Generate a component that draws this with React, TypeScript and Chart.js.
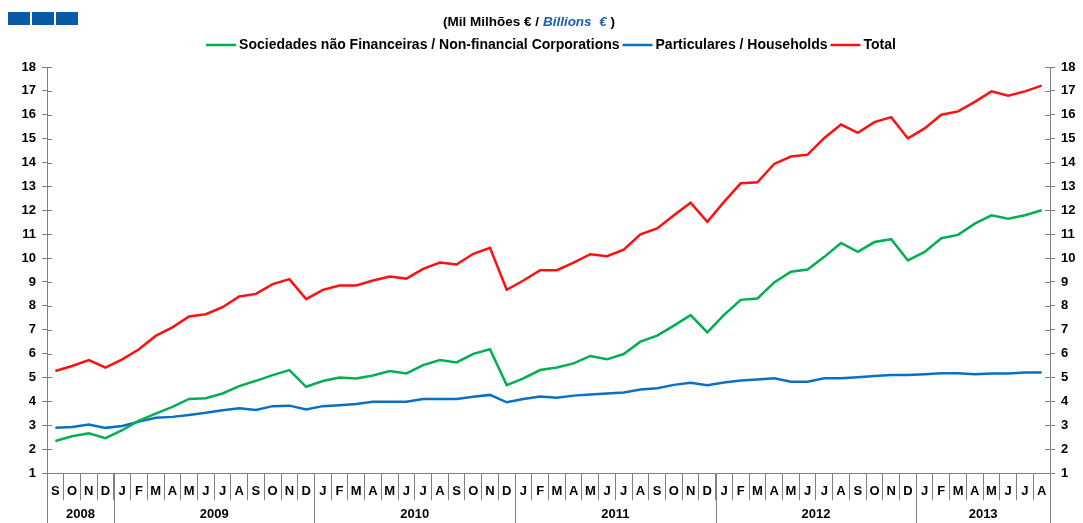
import React, { useEffect, useRef } from 'react';
import { Chart, registerables } from 'chart.js';

Chart.register(...registerables);

const monthLabels = [
  'S', 'O', 'N', 'D',
  'J', 'F', 'M', 'A', 'M', 'J', 'J', 'A', 'S', 'O', 'N', 'D',
  'J', 'F', 'M', 'A', 'M', 'J', 'J', 'A', 'S', 'O', 'N', 'D',
  'J', 'F', 'M', 'A', 'M', 'J', 'J', 'A', 'S', 'O', 'N', 'D',
  'J', 'F', 'M', 'A', 'M', 'J', 'J', 'A', 'S', 'O', 'N', 'D',
  'J', 'F', 'M', 'A', 'M', 'J', 'J', 'A',
];

const yearLabels = ['2008', '2009', '2010', '2011', '2012', '2013'];
const yearMonthCounts = [4, 12, 12, 12, 12, 8];

const corporations = [
  2.34, 2.54, 2.66, 2.46,
  2.79, 3.19, 3.49, 3.77, 4.10, 4.13, 4.33, 4.64, 4.86, 5.10, 5.31, 4.61,
  4.85, 5.00, 4.96, 5.08, 5.27, 5.17, 5.52, 5.73, 5.63, 5.99, 6.18, 4.68,
  4.96, 5.31, 5.42, 5.59, 5.90, 5.76, 5.98, 6.50, 6.75, 7.17, 7.61, 6.89,
  7.62, 8.25, 8.31, 8.98, 9.43, 9.52, 10.05, 10.63, 10.26, 10.67, 10.79, 9.90,
  10.26, 10.83, 10.97, 11.44, 11.79, 11.65, 11.79, 12.00,
];

const households = [
  2.89, 2.93, 3.03, 2.89,
  2.97, 3.15, 3.31, 3.35, 3.43, 3.52, 3.63, 3.71, 3.64, 3.80, 3.82, 3.66,
  3.80, 3.84, 3.89, 3.98, 3.98, 3.98, 4.10, 4.10, 4.10, 4.19, 4.27, 3.96,
  4.10, 4.20, 4.15, 4.24, 4.29, 4.33, 4.37, 4.50, 4.55, 4.69, 4.78, 4.68,
  4.79, 4.87, 4.92, 4.97, 4.82, 4.82, 4.97, 4.97, 5.01, 5.06, 5.10, 5.10,
  5.14, 5.18, 5.18, 5.13, 5.17, 5.17, 5.21, 5.21,
];

const total = [
  5.27, 5.48, 5.73, 5.41,
  5.76, 6.18, 6.74, 7.10, 7.55, 7.65, 7.94, 8.39, 8.50, 8.91, 9.12, 8.28,
  8.67, 8.85, 8.85, 9.06, 9.23, 9.14, 9.55, 9.81, 9.73, 10.18, 10.43, 8.67,
  9.06, 9.49, 9.49, 9.81, 10.16, 10.08, 10.35, 10.99, 11.24, 11.79, 12.32, 11.52,
  12.35, 13.13, 13.17, 13.94, 14.25, 14.33, 15.03, 15.59, 15.24, 15.69, 15.90, 15.01,
  15.43, 16.00, 16.14, 16.54, 16.98, 16.80, 16.98, 17.22,
];

const seriesNames = [
  'Sociedades não Financeiras / Non-financial Corporations',
  'Particulares / Households',
  'Total',
];
const seriesColors = ['#00b050', '#0a70c4', '#ff1010'];
const subtitleParts = ['(Mil Milhões € / ', 'Billions  €', ' )'];

const FONT = "'Liberation Sans', Arial, sans-serif";
const AXIS_GRAY = '#808080';

const decorPlugin = {
  id: 'decor',
  afterDraw(chart: any) {
    const ctx = chart.ctx as CanvasRenderingContext2D;
    const xs = chart.scales.x;
    const ys = chart.scales.y;
    const { bottom, left, right } = chart.chartArea;
    ctx.save();

    // header squares
    ctx.fillStyle = '#0b5aa5';
    [8, 32, 56].forEach((sx) => ctx.fillRect(sx, 12, 22, 13));

    // subtitle
    const fonts = [`bold 13.5px ${FONT}`, `italic bold 13.5px ${FONT}`, `bold 13.5px ${FONT}`];
    const colors = ['#000000', '#1f5fa6', '#000000'];
    const widths = subtitleParts.map((t, i) => {
      ctx.font = fonts[i];
      return ctx.measureText(t).width;
    });
    const totalW = widths.reduce((a, b) => a + b, 0);
    let cx = 529 - totalW / 2;
    ctx.textBaseline = 'middle';
    ctx.textAlign = 'left';
    subtitleParts.forEach((t, i) => {
      ctx.font = fonts[i];
      ctx.fillStyle = colors[i];
      ctx.fillText(t, cx, 22);
      cx += widths[i];
    });

    // legend
    ctx.font = `bold 14px ${FONT}`;
    const lineLen = 30;
    const gap = 3;
    const items = chart.data.datasets.map((d: any) => ({
      text: d.label as string,
      color: d.borderColor as string,
      w: lineLen + gap + ctx.measureText(d.label).width,
    }));
    const legendW = items.reduce((a: number, it: any) => a + it.w, 0) + gap * (items.length - 1);
    let lx = 551 - legendW / 2;
    const ly = 45;
    items.forEach((it: any) => {
      ctx.strokeStyle = it.color;
      ctx.lineWidth = 2.5;
      ctx.beginPath();
      ctx.moveTo(lx, ly);
      ctx.lineTo(lx + lineLen, ly);
      ctx.stroke();
      ctx.fillStyle = '#000';
      ctx.fillText(it.text, lx + lineLen + gap, ly);
      lx += it.w + gap;
    });

    // year row
    const half = (xs.getPixelForValue(1) - xs.getPixelForValue(0)) / 2;
    ctx.strokeStyle = AXIS_GRAY;
    ctx.lineWidth = 1;
    ctx.font = `bold 13px ${FONT}`;
    ctx.fillStyle = '#000';
    ctx.textAlign = 'center';
    let idx = 0;
    const drawV = (px: number) => {
      const p = Math.round(px) + 0.5;
      ctx.beginPath();
      ctx.moveTo(p, bottom);
      ctx.lineTo(p, chart.height);
      ctx.stroke();
    };
    yearLabels.forEach((yl, i) => {
      const n = yearMonthCounts[i];
      const x0 = xs.getPixelForValue(idx) - half;
      const x1 = xs.getPixelForValue(idx + n - 1) + half;
      drawV(x0);
      if (i === yearLabels.length - 1) drawV(x1);
      ctx.fillText(yl, (x0 + x1) / 2, 514);
      idx += n;
    });

    // inner tick marks on both y axes
    ys.ticks.forEach((t: any) => {
      const py = Math.round(ys.getPixelForValue(t.value)) + 0.5;
      ctx.beginPath();
      ctx.moveTo(left, py);
      ctx.lineTo(left + 5, py);
      ctx.moveTo(right - 5, py);
      ctx.lineTo(right, py);
      ctx.stroke();
    });
    ctx.restore();
  },
};

export default function App() {
  const ref = useRef<HTMLCanvasElement | null>(null);
  useEffect(() => {
    if (!ref.current) return;
    const yScale = (position: 'left' | 'right', w: number) => ({
      type: 'linear' as const,
      position,
      min: 1,
      max: 18,
      afterFit: (s: any) => {
        s.width = w;
      },
      border: { display: true, color: AXIS_GRAY, width: 1 },
      grid: { drawOnChartArea: false, drawTicks: true, tickLength: 5, color: AXIS_GRAY },
      ticks: {
        stepSize: 1,
        padding: 6,
        color: '#000',
        font: { family: FONT, size: 13, weight: 'bold' as const },
      },
    });
    const seriesData = [corporations, households, total];
    const chart = new Chart(ref.current, {
      type: 'line',
      data: {
        labels: monthLabels,
        datasets: seriesData.map((data, i) => ({
          label: seriesNames[i],
          data,
          borderColor: seriesColors[i],
          backgroundColor: seriesColors[i],
          borderWidth: 2.5,
          pointRadius: 0,
          tension: 0,
          yAxisID: 'y',
        })),
      },
      options: {
        animation: false,
        responsive: false,
        layout: { padding: { top: 67, left: 0, right: 0, bottom: 0 } },
        plugins: {
          legend: { display: false },
          tooltip: { enabled: false },
        },
        scales: {
          x: {
            type: 'category',
            offset: true,
            afterFit: (s: any) => {
              s.height = 50;
            },
            border: { display: true, color: AXIS_GRAY, width: 1 },
            grid: {
              offset: true,
              drawOnChartArea: false,
              drawTicks: true,
              tickLength: 27,
              color: AXIS_GRAY,
            },
            ticks: {
              autoSkip: false,
              maxRotation: 0,
              minRotation: 0,
              padding: -16,
              color: '#000',
              font: { family: FONT, size: 13, weight: 'bold' },
            },
          },
          y: yScale('left', 47),
          y2: yScale('right', 33),
        },
      },
      plugins: [decorPlugin],
    });
    return () => chart.destroy();
  }, []);
  return (
    <div style={{ position: 'absolute', left: 0, top: 0, width: 1083, height: 523 }}>
      <canvas ref={ref} width={1083} height={523} style={{ display: 'block' }} />
    </div>
  );
}
